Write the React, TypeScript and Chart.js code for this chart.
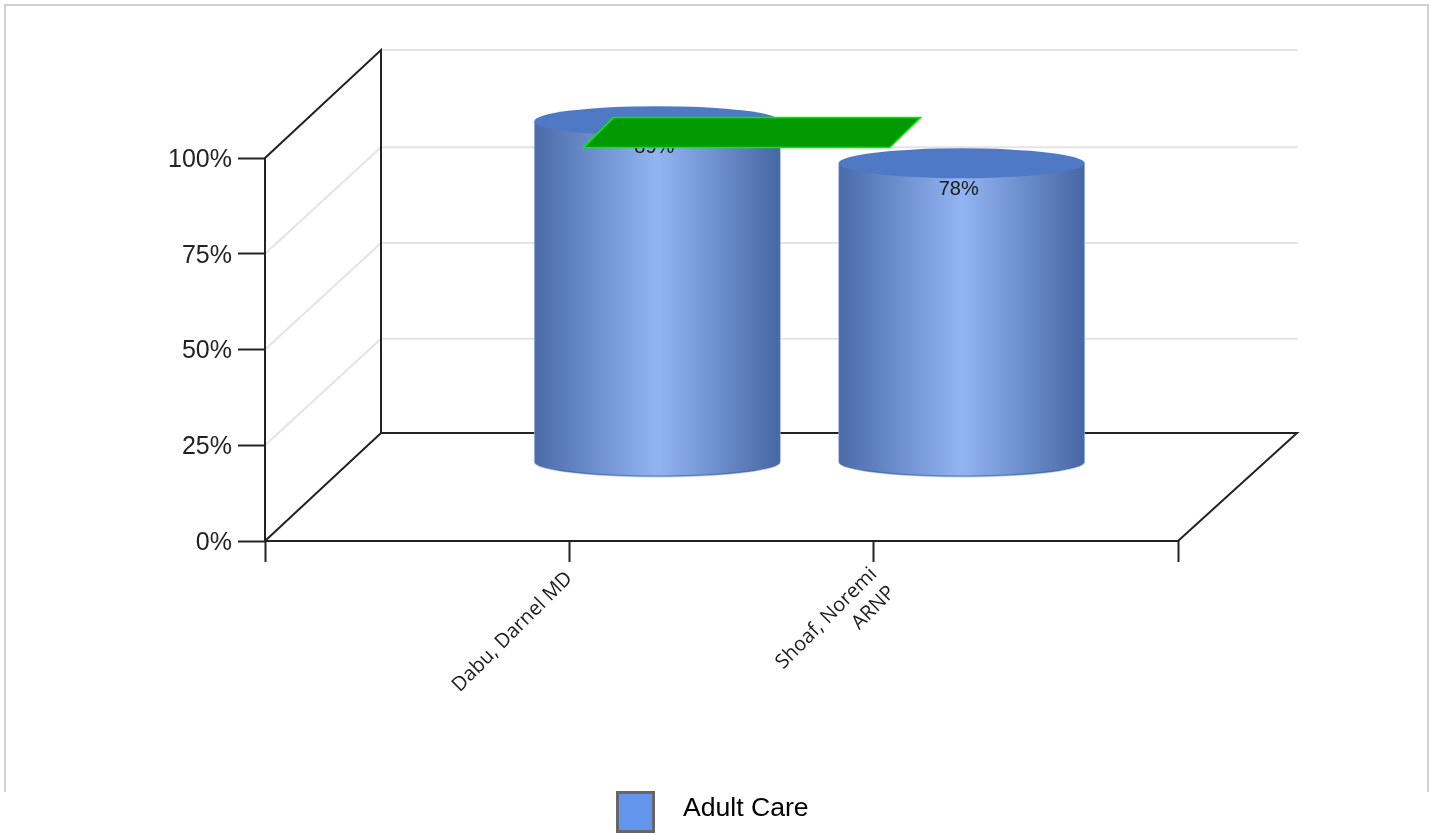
import React, { useEffect, useRef } from "react";
import { Chart, registerables } from "chart.js";

Chart.register(...registerables);

const categories: (string | string[])[] = ["", "Dabu, Darnel MD", ["Shoaf, Noremi", "ARNP"], ""];
const careValues: (number | null)[] = [null, 89, 78, null];
const seriesName = "Adult Care";
const goalValue = 86;
const yTicks = [0, 25, 50, 75, 100];

const DEPTH_X = 116;
const DEPTH_Y = 108;
const AXIS_COLOR = "#222222";
const GRID_COLOR = "#e4e4e4";

// Draws the floor, walls and cylinders behind / over the invisible bar elements.
const scene3d = {
  id: "scene3d",
  beforeDatasetsDraw(chart: any) {
    const { ctx, chartArea: a, scales } = chart;
    const y = scales.y;
    const depthRight = a.right + DEPTH_X + 3;
    ctx.save();
    ctx.lineCap = "round";
    ctx.strokeStyle = GRID_COLOR;
    ctx.lineWidth = 2;
    yTicks.slice(1).forEach((v) => {
      const py = y.getPixelForValue(v);
      const backY = py - (v < 100 ? DEPTH_Y - 1.5 : DEPTH_Y);
      if (v < 100) {
        ctx.beginPath();
        ctx.moveTo(a.left, py);
        ctx.lineTo(a.left + DEPTH_X, backY);
        ctx.stroke();
      }
      ctx.beginPath();
      ctx.moveTo(a.left + DEPTH_X, backY);
      ctx.lineTo(depthRight, backY);
      ctx.stroke();
    });
    ctx.strokeStyle = AXIS_COLOR;
    ctx.lineWidth = 2;
    const line = (pts: number[][]) => {
      ctx.beginPath();
      pts.forEach(([px, py], i) => (i ? ctx.lineTo(px, py) : ctx.moveTo(px, py)));
      ctx.stroke();
    };
    line([[a.left, a.bottom], [a.left, a.top], [a.left + DEPTH_X, a.top - DEPTH_Y], [a.left + DEPTH_X, a.bottom - DEPTH_Y]]);
    line([[a.left, a.bottom], [a.left + DEPTH_X, a.bottom - DEPTH_Y], [depthRight, a.bottom - DEPTH_Y], [a.right, a.bottom], [a.left, a.bottom]]);
    ctx.restore();
  },
  afterDatasetsDraw(chart: any) {
    const { ctx, scales } = chart;
    const meta = chart.getDatasetMeta(0);
    const SHIFT_X = 88;
    const SHIFT_Y = 79;
    const RY = 15;
    meta.data.forEach((bar: any, i: number) => {
      const value = careValues[i];
      if (value == null) return;
      const cx = bar.x + SHIFT_X;
      const rx = bar.width / 2;
      const topY = bar.y - SHIFT_Y;
      const baseY = scales.y.getPixelForValue(0) - SHIFT_Y;
      const grad = ctx.createLinearGradient(cx - rx, 0, cx + rx, 0);
      grad.addColorStop(0, "#4a6ba8");
      grad.addColorStop(0.5, "#92b4f3");
      grad.addColorStop(1, "#4667a3");
      ctx.save();
      ctx.beginPath();
      ctx.moveTo(cx - rx, topY);
      ctx.lineTo(cx - rx, baseY);
      ctx.ellipse(cx, baseY, rx, RY, 0, Math.PI, 0, true);
      ctx.lineTo(cx + rx, topY);
      ctx.closePath();
      ctx.fillStyle = grad;
      ctx.fill();
      ctx.strokeStyle = "rgba(170,190,230,0.55)";
      ctx.lineWidth = 1;
      ctx.stroke();
      // Darker rim along the bottom curve
      ctx.beginPath();
      ctx.ellipse(cx, baseY - 1, rx - 1, RY, 0, Math.PI * 0.8, Math.PI * 0.2, true);
      ctx.strokeStyle = "rgba(58,88,150,0.55)";
      ctx.stroke();
      ctx.beginPath();
      ctx.ellipse(cx, topY, rx, RY, 0, 0, Math.PI * 2);
      ctx.fillStyle = "#5079c5";
      ctx.fill();
      ctx.fillStyle = "#1a1a1a";
      ctx.font = '20px "Liberation Sans"';
      ctx.textAlign = "center";
      ctx.textBaseline = "middle";
      ctx.fillText(`${value}%`, cx - 3, topY + 26);
      ctx.restore();
    });

    // Goal marker: a flat plane at the target level, spanning one category step.
    const gy = scales.y.getPixelForValue(goalValue) - SHIFT_Y;
    const x0 = scales.x.getPixelForValue(1) + 14;
    const x1 = scales.x.getPixelForValue(2) + 16;
    ctx.save();
    ctx.beginPath();
    ctx.moveTo(x0, gy + 15);
    ctx.lineTo(x1, gy + 15);
    ctx.lineTo(x1 + 31, gy - 15);
    ctx.lineTo(x0 + 30, gy - 15);
    ctx.closePath();
    ctx.fillStyle = "#009a00";
    ctx.fill();
    ctx.strokeStyle = "#00f000";
    ctx.lineWidth = 1.5;
    ctx.stroke();
    ctx.restore();
  },
};

export default function App() {
  const ref = useRef<HTMLCanvasElement>(null);

  useEffect(() => {
    const chart = new Chart(ref.current!, {
      type: "bar",
      data: {
        labels: categories as any,
        datasets: [
          {
            label: seriesName,
            data: careValues,
            backgroundColor: "transparent",
            borderWidth: 0,
            barThickness: 246,
          },
        ],
      },
      options: {
        animation: false,
        responsive: false,
        layout: { padding: { top: 158, right: 252, left: 0, bottom: 0 } },
        plugins: { legend: { display: false }, tooltip: { enabled: false } },
        scales: {
          x: {
            offset: false,
            afterFit: (s: any) => {
              s.height = 249;
            },
            grid: { offset: false, drawOnChartArea: false, tickLength: 21, tickColor: AXIS_COLOR, tickWidth: 2 },
            border: { display: false },
            ticks: {
              autoSkip: false,
              minRotation: 45,
              maxRotation: 45,
              padding: 0,
              color: "#1c1c1c",
              // The single-line label sits a little further off its tick than the two-line one.
              font: (c: any) => ({
                family: '"Open Sans"',
                size: 20,
                lineHeight: c.index === 1 ? 1.85 : 1.3,
              }),
            },
          },
          y: {
            min: 0,
            max: 100,
            afterFit: (s: any) => {
              s.width = 265;
            },
            grid: { drawOnChartArea: false, tickLength: 27, tickColor: AXIS_COLOR, tickWidth: 2 },
            border: { display: false },
            afterBuildTicks: (s: any) => {
              s.ticks = yTicks.map((value) => ({ value }));
            },
            ticks: {
              padding: 6,
              labelOffset: 2,
              color: "#222222",
              font: { family: '"Liberation Sans"', size: 25 },
              callback: (v: any) => `${v}%`,
            },
          },
        },
      },
      plugins: [scene3d],
    } as any);
    return () => chart.destroy();
  }, []);

  return (
    <>
      <div
        style={{
          position: "fixed",
          left: 4,
          top: 4,
          width: 1421,
          height: 786,
          border: "2px solid #d2d2d2",
          borderBottom: "none",
        }}
      />
      <canvas ref={ref} width={1430} height={790} style={{ position: "fixed", left: 0, top: 0 }} />
      <div
        style={{
          position: "fixed",
          left: 616,
          top: 791,
          width: 33,
          height: 36,
          background: "#6495ed",
          border: "3px solid #666666",
        }}
      />
      <div
        style={{
          position: "fixed",
          left: 683,
          top: 792,
          font: '26.6px "Liberation Sans"',
          lineHeight: "30px",
          color: "#000",
          whiteSpace: "nowrap",
        }}
      >
        {seriesName}
      </div>
    </>
  );
}
